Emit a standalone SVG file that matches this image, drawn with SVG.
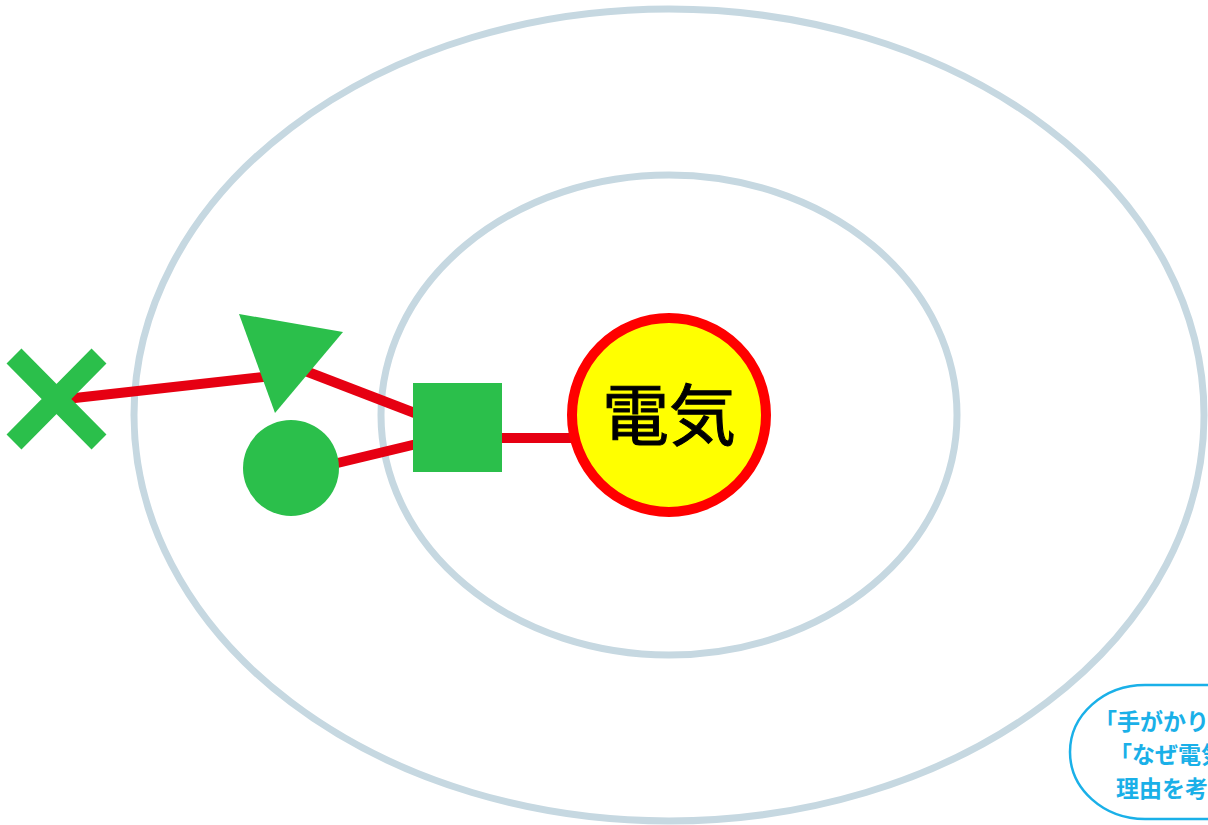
<svg xmlns="http://www.w3.org/2000/svg" width="1208" height="825" viewBox="0 0 1208 825">
<style>
.ring{fill:none;stroke:#c6d8e1;stroke-width:7}
.conn{stroke:#e60012;stroke-width:10;fill:none}
.g{fill:#2bbf4b}
.hint{font-family:"Noto Sans CJK JP","Noto Sans",sans-serif;font-weight:bold;font-size:23px;fill:#1ab0e8}
</style>
<rect width="1208" height="825" fill="#ffffff"/>
<g id="rings">
<ellipse class="ring" cx="669" cy="415" rx="535" ry="406"/>
<ellipse class="ring" cx="669" cy="415" rx="288" ry="240"/>
</g>
<g id="connectors">
<line class="conn" x1="57" y1="400" x2="272" y2="376"/>
<line class="conn" x1="295" y1="367" x2="425" y2="417"/>
<line class="conn" x1="325" y1="466" x2="425" y2="442"/>
<line class="conn" x1="495" y1="438" x2="578" y2="438"/>
</g>
<g id="node-x">
<path d="M14,356 L99,442 M99,356 L14,442" stroke="#2bbf4b" stroke-width="21" fill="none"/>
</g>
<g id="node-triangle">
<polygon class="g" points="239,314 343,332 275,413"/>
</g>
<g id="node-circle">
<circle class="g" cx="291" cy="468" r="48"/>
</g>
<g id="node-square">
<rect class="g" x="413" y="383" width="89" height="89"/>
</g>
<g id="node-denki">
<circle cx="669" cy="415" r="97" fill="#ffff00" stroke="#ff0000" stroke-width="10"/>
<text x="669" y="440" text-anchor="middle" font-family="Noto Sans CJK JP,Noto Sans,sans-serif" font-size="67" fill="#000000" stroke="#000000" stroke-width="1">電気</text>
</g>
<g id="hint-bubble">
<rect x="1070" y="685" width="270" height="134" rx="75" ry="67" fill="#ffffff" stroke="#1ab0e8" stroke-width="2.5"/>
<text class="hint" x="1094" y="730">「手がかり」</text>
<text class="hint" x="1109" y="763">「なぜ電気</text>
<text class="hint" x="1116" y="797">理由を考</text>
</g>
</svg>
